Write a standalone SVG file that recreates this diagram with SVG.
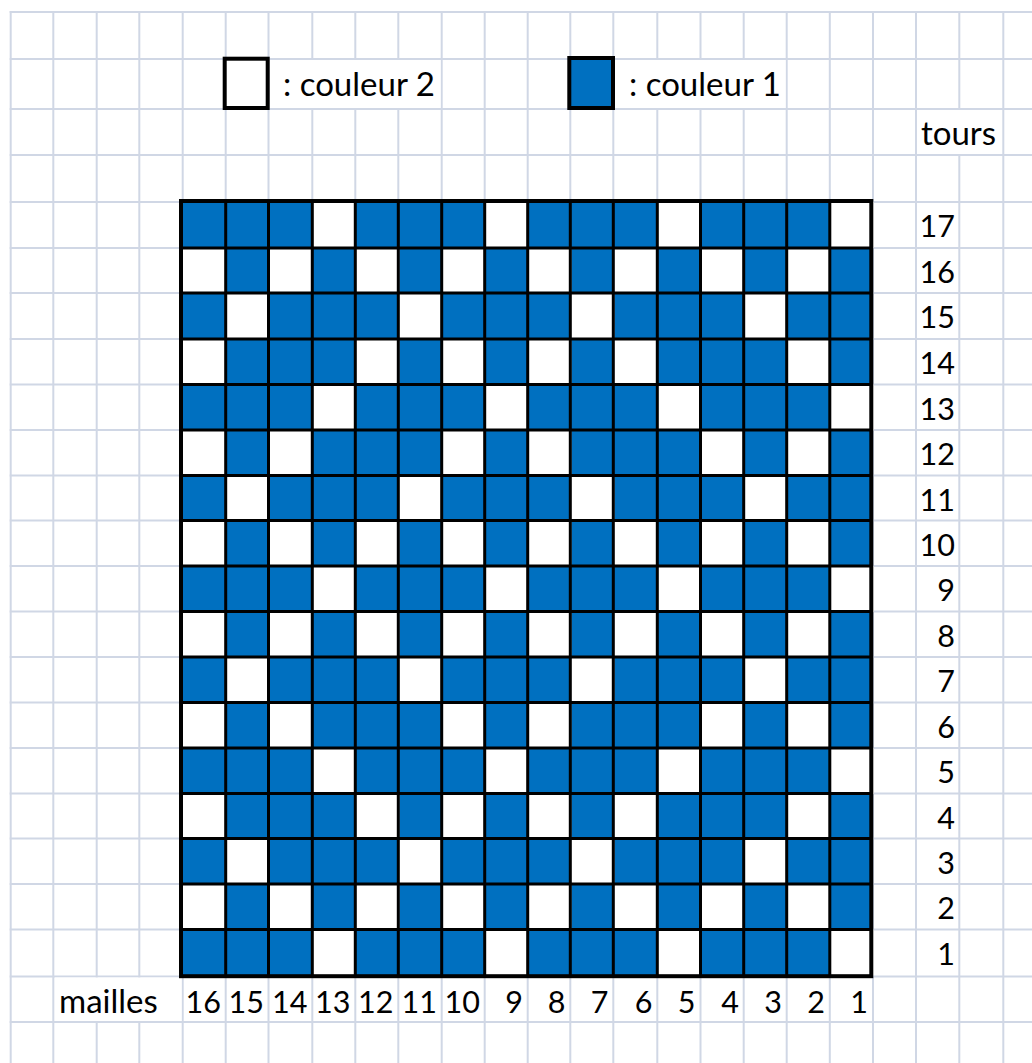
<svg xmlns="http://www.w3.org/2000/svg" width="1032" height="1063" viewBox="0 0 1032 1063">
<style>
.g{stroke:#D0D7E5;stroke-width:2;fill:none}
.m{fill:#fff}
.w{fill:#fff}
.k{stroke:#000;stroke-width:3;fill:none}
.t{font-family:Lato,"Liberation Sans",sans-serif;font-size:33px;fill:#000}
.n{font-family:Lato,"Liberation Sans",sans-serif;font-size:30.5px;fill:#000;text-anchor:end}
</style>
<rect width="1032" height="1063" fill="#fff"/>
<g id="sheet-grid" class="g">
<path d="M10.7 11V1063M53.3 11V1063M96.7 11V1063M139.3 11V1063M182.7 11V1063M225.7 11V1063M268.5 11V1063M312.3 11V1063M355.3 11V1063M398.3 11V1063M441.7 11V1063M484.7 11V1063M527.7 11V1063M570.3 11V1063M613.3 11V1063M657.3 11V1063M700.5 11V1063M743.7 11V1063M786.7 11V1063M829.8 11V1063M873 11V1063M916 11V1063M959.3 11V1063M1003.3 11V1063"/>
<path d="M9.7 12H1032M9.7 59H1032M9.7 109H1032M9.7 155H1032M9.7 202H1032M9.7 248H1032M9.7 293H1032M9.7 339H1032M9.7 384.5H1032M9.7 430H1032M9.7 475.5H1032M9.7 520.5H1032M9.7 566H1032M9.7 611.5H1032M9.7 657H1032M9.7 702.5H1032M9.7 748H1032M9.7 793.5H1032M9.7 838.5H1032M9.7 884H1032M9.7 929.5H1032M9.7 976.5H1032M9.7 1022H1032"/>
</g>
<g id="overflow-masks">
<rect class="m" x="270" y="60" width="170.5" height="48"/>
<rect class="m" x="615" y="60" width="170.5" height="48"/>
<rect class="m" x="918" y="110" width="84" height="44"/>
<rect class="m" x="55" y="977.5" width="126.5" height="43.5"/>
</g>
<g id="chart">
<rect x="182.5" y="202" width="690" height="774.5" fill="#0070C0"/>
<g id="white-cells" class="w">
<!-- row 17 -->
<rect x="312" y="202" width="44" height="46"/><rect x="484.5" y="202" width="44" height="46"/><rect x="657" y="202" width="44" height="46"/><rect x="830" y="202" width="44" height="46"/>
<!-- row 16 -->
<rect x="182.5" y="248" width="44" height="46"/><rect x="268.5" y="248" width="44" height="46"/><rect x="355.5" y="248" width="44" height="46"/><rect x="441.5" y="248" width="44" height="46"/><rect x="527.5" y="248" width="44" height="46"/><rect x="613.5" y="248" width="44" height="46"/><rect x="700.5" y="248" width="44" height="46"/><rect x="786.5" y="248" width="44" height="46"/>
<!-- row 15 -->
<rect x="225.5" y="293" width="44" height="46"/><rect x="398.5" y="293" width="44" height="46"/><rect x="570.5" y="293" width="44" height="46"/><rect x="743.5" y="293" width="44" height="46"/>
<!-- row 14 -->
<rect x="182.5" y="339" width="44" height="46"/><rect x="355.5" y="339" width="44" height="46"/><rect x="441.5" y="339" width="44" height="46"/><rect x="527.5" y="339" width="44" height="46"/><rect x="613.5" y="339" width="44" height="46"/><rect x="786.5" y="339" width="44" height="46"/>
<!-- row 13 -->
<rect x="312" y="384.5" width="44" height="46"/><rect x="484.5" y="384.5" width="44" height="46"/><rect x="657" y="384.5" width="44" height="46"/><rect x="830" y="384.5" width="44" height="46"/>
<!-- row 12 -->
<rect x="182.5" y="430" width="44" height="46"/><rect x="268.5" y="430" width="44" height="46"/><rect x="441.5" y="430" width="44" height="46"/><rect x="527.5" y="430" width="44" height="46"/><rect x="700.5" y="430" width="44" height="46"/><rect x="786.5" y="430" width="44" height="46"/>
<!-- row 11 -->
<rect x="225.5" y="475.5" width="44" height="46"/><rect x="398.5" y="475.5" width="44" height="46"/><rect x="570.5" y="475.5" width="44" height="46"/><rect x="743.5" y="475.5" width="44" height="46"/>
<!-- row 10 -->
<rect x="182.5" y="520.5" width="44" height="46"/><rect x="268.5" y="520.5" width="44" height="46"/><rect x="355.5" y="520.5" width="44" height="46"/><rect x="441.5" y="520.5" width="44" height="46"/><rect x="527.5" y="520.5" width="44" height="46"/><rect x="613.5" y="520.5" width="44" height="46"/><rect x="700.5" y="520.5" width="44" height="46"/><rect x="786.5" y="520.5" width="44" height="46"/>
<!-- row 9 -->
<rect x="312" y="566" width="44" height="46"/><rect x="484.5" y="566" width="44" height="46"/><rect x="657" y="566" width="44" height="46"/><rect x="830" y="566" width="44" height="46"/>
<!-- row 8 -->
<rect x="182.5" y="611.5" width="44" height="46"/><rect x="268.5" y="611.5" width="44" height="46"/><rect x="355.5" y="611.5" width="44" height="46"/><rect x="441.5" y="611.5" width="44" height="46"/><rect x="527.5" y="611.5" width="44" height="46"/><rect x="613.5" y="611.5" width="44" height="46"/><rect x="700.5" y="611.5" width="44" height="46"/><rect x="786.5" y="611.5" width="44" height="46"/>
<!-- row 7 -->
<rect x="225.5" y="657" width="44" height="46"/><rect x="398.5" y="657" width="44" height="46"/><rect x="570.5" y="657" width="44" height="46"/><rect x="743.5" y="657" width="44" height="46"/>
<!-- row 6 -->
<rect x="182.5" y="702.5" width="44" height="46"/><rect x="268.5" y="702.5" width="44" height="46"/><rect x="441.5" y="702.5" width="44" height="46"/><rect x="527.5" y="702.5" width="44" height="46"/><rect x="700.5" y="702.5" width="44" height="46"/><rect x="786.5" y="702.5" width="44" height="46"/>
<!-- row 5 -->
<rect x="312" y="748" width="44" height="46"/><rect x="484.5" y="748" width="44" height="46"/><rect x="657" y="748" width="44" height="46"/><rect x="830" y="748" width="44" height="46"/>
<!-- row 4 -->
<rect x="182.5" y="793.5" width="44" height="46"/><rect x="355.5" y="793.5" width="44" height="46"/><rect x="441.5" y="793.5" width="44" height="46"/><rect x="527.5" y="793.5" width="44" height="46"/><rect x="613.5" y="793.5" width="44" height="46"/><rect x="786.5" y="793.5" width="44" height="46"/>
<!-- row 3 -->
<rect x="225.5" y="838.5" width="44" height="46"/><rect x="398.5" y="838.5" width="44" height="46"/><rect x="570.5" y="838.5" width="44" height="46"/><rect x="743.5" y="838.5" width="44" height="46"/>
<!-- row 2 -->
<rect x="182.5" y="884" width="44" height="46"/><rect x="268.5" y="884" width="44" height="46"/><rect x="355.5" y="884" width="44" height="46"/><rect x="441.5" y="884" width="44" height="46"/><rect x="527.5" y="884" width="44" height="46"/><rect x="613.5" y="884" width="44" height="46"/><rect x="700.5" y="884" width="44" height="46"/><rect x="786.5" y="884" width="44" height="46"/>
<!-- row 1 -->
<rect x="312" y="929.5" width="44" height="46"/><rect x="484.5" y="929.5" width="44" height="46"/><rect x="657" y="929.5" width="44" height="46"/><rect x="830" y="929.5" width="44" height="46"/>
</g>
<g id="chart-lines" class="k">
<path d="M225.7 202V976M268.5 202V976M312.3 202V976M355.3 202V976M398.3 202V976M441.7 202V976M484.7 202V976M527.7 202V976M570.3 202V976M613.3 202V976M657.3 202V976M700.5 202V976M743.7 202V976M786.7 202V976M829.8 202V976"/>
<path d="M182 248H872M182 293H872M182 339H872M182 384.5H872M182 430H872M182 475.5H872M182 520.5H872M182 566H872M182 611.5H872M182 657H872M182 702.5H872M182 748H872M182 793.5H872M182 838.5H872M182 884H872M182 929.5H872"/>
<rect x="181" y="201" width="690.3" height="775.2" stroke-width="4"/>
</g>
</g>
<g id="legend-couleur-2">
<rect x="224.7" y="58.7" width="43" height="49.3" fill="#fff" stroke="#000" stroke-width="4"/>
<text class="t" x="283" y="96">: couleur 2</text>
</g>
<g id="legend-couleur-1">
<rect x="569.3" y="58" width="43.7" height="50" fill="#0070C0" stroke="#000" stroke-width="4"/>
<text class="t" x="629" y="96">: couleur 1</text>
</g>
<g id="labels-tours">
<text class="t" x="921" y="145">tours</text>
<text class="n" x="955" y="237.3">17</text>
<text class="n" x="955" y="283.3">16</text>
<text class="n" x="955" y="328.3">15</text>
<text class="n" x="955" y="374.3">14</text>
<text class="n" x="955" y="419.8">13</text>
<text class="n" x="955" y="465.3">12</text>
<text class="n" x="955" y="510.8">11</text>
<text class="n" x="955" y="555.8">10</text>
<text class="n" x="955" y="601.3">9</text>
<text class="n" x="955" y="646.8">8</text>
<text class="n" x="955" y="692.3">7</text>
<text class="n" x="955" y="737.8">6</text>
<text class="n" x="955" y="783.3">5</text>
<text class="n" x="955" y="828.8">4</text>
<text class="n" x="955" y="873.8">3</text>
<text class="n" x="955" y="919.3">2</text>
<text class="n" x="955" y="964.8">1</text>
</g>
<g id="labels-mailles">
<text class="t" x="59" y="1013">mailles</text>
<text class="n" x="221" y="1013">16</text>
<text class="n" x="264" y="1013">15</text>
<text class="n" x="307.5" y="1013">14</text>
<text class="n" x="350.5" y="1013">13</text>
<text class="n" x="393.5" y="1013">12</text>
<text class="n" x="437" y="1013">11</text>
<text class="n" x="480" y="1013">10</text>
<text class="n" x="523" y="1013">9</text>
<text class="n" x="565.5" y="1013">8</text>
<text class="n" x="608.5" y="1013">7</text>
<text class="n" x="652.5" y="1013">6</text>
<text class="n" x="695.5" y="1013">5</text>
<text class="n" x="739" y="1013">4</text>
<text class="n" x="782" y="1013">3</text>
<text class="n" x="825" y="1013">2</text>
<text class="n" x="868" y="1013">1</text>
</g>
</svg>
